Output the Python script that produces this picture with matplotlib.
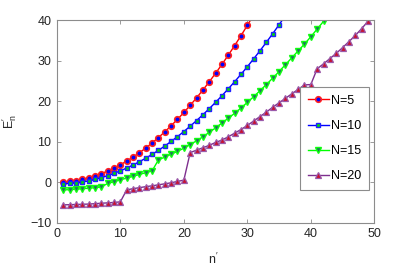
import matplotlib
matplotlib.use("Agg")
import matplotlib.pyplot as plt

plt.rcParams['font.family'] = ['Liberation Sans', 'DejaVu Sans']
plt.rcParams['font.size'] = 9
plt.rcParams['mathtext.default'] = 'regular'

# energy levels, index n' = 1, 2, ...
e_n5 = [0.04, 0.17, 0.39, 0.69, 1.08, 1.55, 2.11, 2.75, 3.48, 4.30,
        5.20, 6.19, 7.27, 8.43, 9.68, 11.01, 12.43, 13.93, 15.52, 17.20,
        18.96, 20.81, 22.75, 24.77, 26.88, 29.07, 31.35, 33.71, 36.16, 38.70,
        41.32]
e_n10 = [-0.40, -0.30, -0.15, 0.05, 0.31, 0.68, 1.12, 1.62, 2.18, 2.80,
         3.49, 4.24, 5.05, 5.92, 6.86, 7.86, 8.93, 10.06, 11.25, 12.50,
         13.82, 15.20, 16.64, 18.14, 19.71, 21.34, 23.04, 24.80, 26.62, 28.50,
         30.45, 32.46, 34.53, 36.66, 38.86, 41.12]
e_n15 = [-1.90, -1.85, -1.75, -1.60, -1.50, -1.35, -1.20, -0.30, 0.10, 0.60,
         1.00, 1.45, 1.90, 2.35, 2.80, 5.50, 6.20, 6.90, 7.60, 8.40,
         9.30, 10.20, 11.20, 12.30, 13.40, 14.60, 15.80, 17.00, 18.30, 19.70,
         21.10, 22.60, 24.10, 25.70, 27.30, 29.00, 30.70, 32.40, 34.10, 35.90,
         37.80, 39.70, 41.60]
e_n20 = [-5.60, -5.55, -5.50, -5.45, -5.40, -5.30, -5.20, -5.10, -5.00, -4.85,
         -1.90, -1.60, -1.35, -1.10, -0.90, -0.65, -0.40, -0.15, 0.20, 0.50,
         7.30, 7.90, 8.50, 9.10, 9.80, 10.40, 11.20, 12.10, 13.00, 14.00,
         15.10, 16.20, 17.30, 18.50, 19.60, 20.70, 21.80, 22.90, 24.00, 24.10,
         28.00, 29.20, 30.50, 31.80, 33.20, 34.70, 36.20, 37.90, 39.70]

labels = ['N=5', 'N=10', 'N=15', 'N=20']

fig = plt.figure(figsize=(4.15, 2.68), dpi=100)
ax = fig.add_axes([0.137, 0.169, 0.765, 0.756])

ax.plot(range(1, len(e_n5) + 1), e_n5, '-o', color='#ff0000', lw=1,
        ms=4, mfc='#0000ff', mec='#ff2020', mew=1.2, label=labels[0])
ax.plot(range(1, len(e_n10) + 1), e_n10, '-s', color='#0000ff', lw=1,
        ms=3.5, mfc='#00e000', mec='#2020ff', mew=1.0, label=labels[1])
ax.plot(range(1, len(e_n15) + 1), e_n15, '-v', color='#00ff00', lw=1,
        ms=4, mfc='#207060', mec='#10ff10', mew=1.0, label=labels[2])
ax.plot(range(1, len(e_n20) + 1), e_n20, '-^', color='#7e2f8e', lw=1,
        ms=4, mfc='#c8102e', mec='#9a5aaa', mew=0.9, label=labels[3])

ax.set_xlim(0, 50)
ax.set_ylim(-10, 40)
ax.set_xticks([0, 10, 20, 30, 40, 50])
ax.set_yticks([-10, 0, 10, 20, 30, 40])

for s in ax.spines.values():
    s.set_color('#8c8c8c')
    s.set_linewidth(0.8)
ax.tick_params(direction='in', length=3, width=0.6, color='#8c8c8c',
               top=True, right=True, labelsize=9, labelcolor='#262626', pad=4)

ax.set_xlabel(r"$n^{\prime}$", fontsize=9, color='#262626')
ax.xaxis.set_label_coords(0.492, -0.145)
ax.set_ylabel(r"$E^{\prime}_{n}$", fontsize=9, color='#262626')
ax.yaxis.set_label_coords(-0.118, 0.5)

leg = ax.legend(loc='upper left', bbox_to_anchor=(0.767, 0.668),
                borderaxespad=0, fancybox=False, framealpha=1,
                edgecolor='#8c8c8c', labelspacing=1.05, handlelength=1.7,
                handletextpad=0.15, borderpad=0.6, fontsize=9)
leg.get_frame().set_linewidth(0.8)

fig.savefig('out.png', dpi=100, facecolor='white')
